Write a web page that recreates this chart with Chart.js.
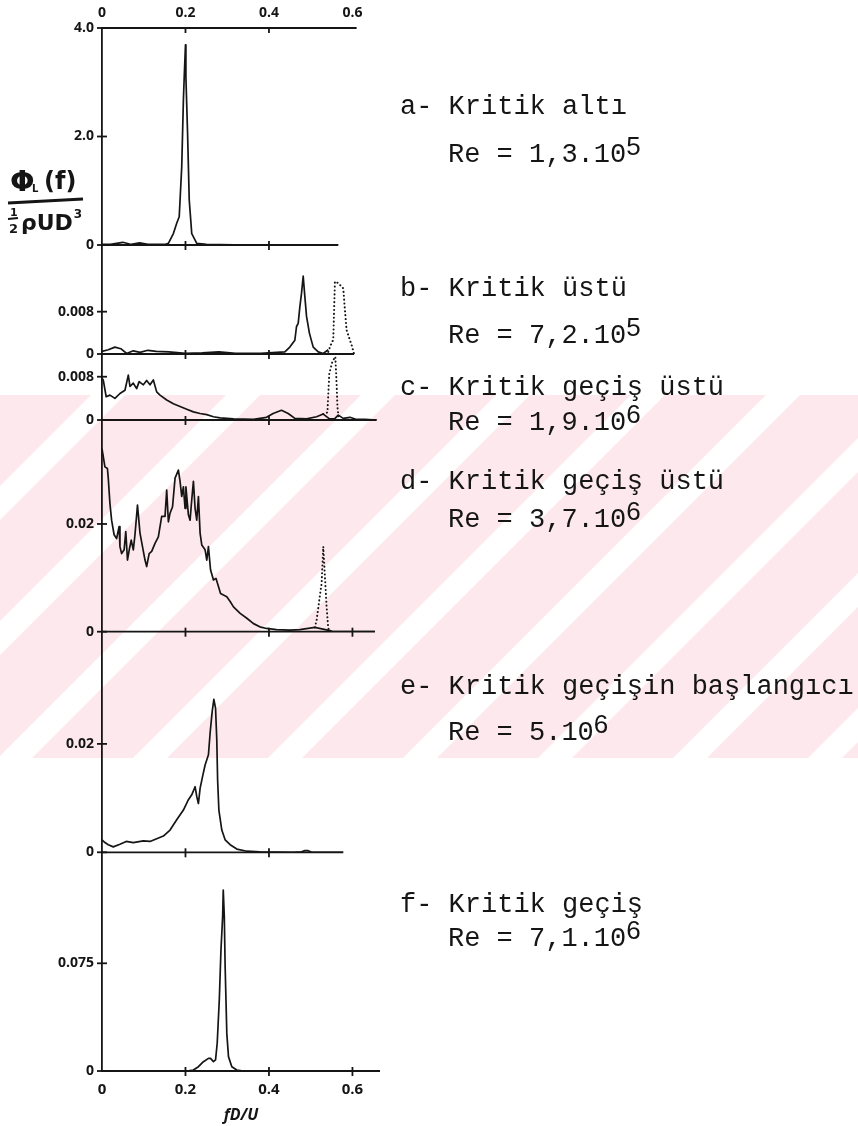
<!DOCTYPE html>
<html>
<head>
<meta charset="utf-8">
<script src="https://cdn.jsdelivr.net/npm/chart.js@4.4.0/dist/chart.umd.min.js"></script>
<style>
  html, body { margin: 0; padding: 0; background: #fff; }
  body { width: 858px; height: 1126px; overflow: hidden; }
  #spectra { display: block; }
</style>
</head>
<body>
<canvas id="spectra" width="858" height="1126"></canvas>
<script>
// x axis (fD/U)
const xTicks = [0, 0.2, 0.4, 0.6];
const xTickLabels = ['0', '0.2', '0.4', '0.6'];

// a - subcritical
const aX = [0, 0.02, 0.05, 0.07, 0.09, 0.11, 0.15, 0.159, 0.171, 0.179, 0.185, 0.191, 0.195, 0.197, 0.2, 0.201, 0.205, 0.209, 0.215, 0.227, 0.25, 0.35, 0.45, 0.566];
const aY = [0.01, 0.01, 0.05, 0.01, 0.04, 0.01, 0.01, 0.03, 0.21, 0.4, 0.52, 1.44, 2.67, 3.1, 3.69, 3.1, 2.06, 0.83, 0.21, 0.03, 0.01, 0, 0, 0];
const yTicksA = [0, 2, 4];
const yLabelsA = ['0', '2.0', '4.0'];

// b - supercritical
const bX = [0, 0.015, 0.031, 0.045, 0.059, 0.075, 0.091, 0.11, 0.13, 0.16, 0.2, 0.24, 0.28, 0.32, 0.38, 0.438, 0.45, 0.462, 0.466, 0.47, 0.474, 0.478, 0.482, 0.486, 0.49, 0.497, 0.506, 0.518, 0.53, 0.542];
const bY = [0.0005, 0.0008, 0.0013, 0.001, 0.0001, 0.0006, 0.0003, 0.0007, 0.0005, 0.0004, 0.0001, 0.0002, 0.0004, 0.0001, 0.0001, 0.0004, 0.0013, 0.0026, 0.0052, 0.0058, 0.0089, 0.0115, 0.0147, 0.0108, 0.0071, 0.0039, 0.0013, 0.0004, 0.0001, 0.0008];
const bDotX = [0.542, 0.548, 0.554, 0.558, 0.566, 0.578, 0.582, 0.586, 0.598, 0.604];
const bDotY = [0.0004, 0.0017, 0.0027, 0.0137, 0.0134, 0.0124, 0.0083, 0.0045, 0.0017, 0];
const yTicksB = [0, 0.008];
const yLabelsB = ['0', '0.008'];

// c - upper transition
const cX = [0, 0.003, 0.01, 0.019, 0.031, 0.043, 0.055, 0.063, 0.067, 0.075, 0.083, 0.089, 0.099, 0.107, 0.115, 0.123, 0.131, 0.139, 0.155, 0.171, 0.187, 0.203, 0.219, 0.235, 0.251, 0.267, 0.283, 0.315, 0.363, 0.394, 0.41, 0.43, 0.446, 0.462, 0.49, 0.514, 0.53, 0.545, 0.557, 0.566, 0.578, 0.594, 0.61, 0.63, 0.658];
const cY = [0.0077, 0.0074, 0.0043, 0.0046, 0.004, 0.0049, 0.0055, 0.0083, 0.0062, 0.0068, 0.0058, 0.0071, 0.0065, 0.0073, 0.0065, 0.0074, 0.0052, 0.0046, 0.0037, 0.003, 0.0025, 0.002, 0.0015, 0.0012, 0.001, 0.0006, 0.0004, 0.0002, 0.0001, 0.0005, 0.0012, 0.0018, 0.0012, 0.0003, 0.0002, 0.0006, 0.0011, 0.0002, 0.0002, 0.0009, 0.0003, 0.0005, 0.0001, 0.0001, 0];
const cDotX = [0.53, 0.54, 0.5445, 0.552, 0.559, 0.562, 0.564, 0.567];
const cDotY = [0.0011, 0.0014, 0.0086, 0.0108, 0.0117, 0.0068, 0.0025, 0.0003];
const yTicksC = [0, 0.008];
const yLabelsC = ['0', '0.008'];

// d - upper transition
const dX = [0, 0.007, 0.013, 0.015, 0.019, 0.023, 0.029, 0.035, 0.041, 0.043, 0.047, 0.053, 0.057, 0.061, 0.066, 0.07, 0.075, 0.079, 0.085, 0.091, 0.097, 0.103, 0.107, 0.113, 0.119, 0.127, 0.135, 0.143, 0.151, 0.155, 0.159, 0.163, 0.169, 0.175, 0.183, 0.187, 0.191, 0.195, 0.199, 0.201, 0.207, 0.211, 0.215, 0.219, 0.223, 0.227, 0.231, 0.235, 0.239, 0.247, 0.251, 0.255, 0.26, 0.267, 0.273, 0.279, 0.284, 0.291, 0.299, 0.307, 0.315, 0.331, 0.347, 0.363, 0.378, 0.394, 0.418, 0.45, 0.474, 0.51, 0.546, 0.554, 0.602, 0.654];
const dY = [0.034, 0.0306, 0.0303, 0.0285, 0.0238, 0.0207, 0.018, 0.0173, 0.0195, 0.0158, 0.0145, 0.0152, 0.0186, 0.0133, 0.0155, 0.017, 0.0152, 0.018, 0.0235, 0.0183, 0.0158, 0.0133, 0.0121, 0.0145, 0.0149, 0.0164, 0.0176, 0.0214, 0.0214, 0.0263, 0.0204, 0.022, 0.0232, 0.0285, 0.03, 0.0279, 0.0251, 0.0269, 0.0229, 0.0269, 0.0217, 0.0207, 0.0245, 0.0279, 0.0229, 0.0207, 0.0251, 0.0183, 0.0161, 0.0152, 0.0133, 0.0158, 0.0115, 0.0096, 0.0099, 0.0084, 0.0071, 0.0068, 0.0065, 0.0056, 0.0046, 0.0034, 0.0025, 0.0015, 0.0009, 0.0006, 0.0004, 0.0003, 0.0004, 0.0008, 0.0002, 0, 0, 0];
const dDotX = [0.5102, 0.5142, 0.5206, 0.5261, 0.5301, 0.5341, 0.5381, 0.5421, 0.5461];
const dDotY = [0.0008, 0.0022, 0.0059, 0.009, 0.0158, 0.0102, 0.0046, 0.0006, 0.0002];
const yTicksD = [0, 0.02];
const yLabelsD = ['0', '0.02'];

// e - start of transition
const eX = [0, 0.007, 0.015, 0.027, 0.043, 0.058, 0.075, 0.099, 0.115, 0.131, 0.147, 0.163, 0.179, 0.195, 0.207, 0.215, 0.223, 0.227, 0.231, 0.235, 0.241, 0.247, 0.255, 0.259, 0.264, 0.268, 0.272, 0.275, 0.277, 0.28, 0.287, 0.295, 0.307, 0.323, 0.347, 0.378, 0.458, 0.478, 0.486, 0.494, 0.502, 0.578];
const eY = [0.0023, 0.0018, 0.0014, 0.001, 0.0015, 0.002, 0.0018, 0.0021, 0.002, 0.0025, 0.003, 0.0041, 0.006, 0.0078, 0.0097, 0.0106, 0.0121, 0.0103, 0.009, 0.0118, 0.014, 0.0161, 0.018, 0.022, 0.026, 0.0282, 0.0266, 0.0207, 0.0133, 0.0078, 0.0041, 0.0023, 0.0014, 0.0006, 0.0002, 0.0001, 0, 0.0001, 0.0003, 0.0003, 0, 0];
const yTicksE = [0, 0.02];
const yLabelsE = ['0', '0.02'];

// f - transition
const fX = [0, 0.1, 0.203, 0.219, 0.231, 0.243, 0.255, 0.26, 0.267, 0.272, 0.276, 0.281, 0.285, 0.289, 0.2905, 0.293, 0.295, 0.299, 0.303, 0.311, 0.323, 0.339, 0.5, 0.666];
const fY = [0, 0, 0, 0.0007, 0.003, 0.0065, 0.0088, 0.0088, 0.0065, 0.0077, 0.0193, 0.0495, 0.0843, 0.1075, 0.126, 0.1075, 0.0727, 0.0262, 0.01, 0.003, 0.0007, 0, 0, 0];
const yTicksF = [0, 0.075];
const yLabelsF = ['0', '0.075'];

// labels on the right
const noteLetters = ['a', 'b', 'c', 'd', 'e', 'f'];
const noteTitles = ['Kritik altı', 'Kritik üstü', 'Kritik geçiş üstü', 'Kritik geçiş üstü', 'Kritik geçişin başlangıcı', 'Kritik geçiş'];
const reMantissa = ['1,3.10', '7,2.10', '1,9.10', '3,7.10', '5.10', '7,1.10'];
const reExponent = ['5', '5', '6', '6', '6', '6'];

// layout: baselines of the two text lines for each note
const noteBaselines = [[114, 162], [296, 343], [395, 430], [489, 527], [694, 740], [912, 946]];

const INK = '#151515';
const SANS = '"Open Sans", "Liberation Sans", sans-serif';
const TICK_FONT = {family: SANS, size: 14, weight: 'bold'};

const panels = [
  {id: 'ya', max: 4.0, weight: 217, order: 6, ticks: yTicksA, labels: yLabelsA, baseEnd: 0.566, baseTicks: [0.2, 0.4]},
  {id: 'yb', max: 0.0206, weight: 109, order: 5, ticks: yTicksB, labels: yLabelsB, baseEnd: 0.604, baseTicks: [0.2, 0.4]},
  {id: 'yc', max: 0.0122, weight: 66, order: 4, ticks: yTicksC, labels: yLabelsC, baseEnd: 0.658, baseTicks: [0.2, 0.4]},
  {id: 'yd', max: 0.0393, weight: 211.7, order: 3, ticks: yTicksD, labels: yLabelsD, baseEnd: 0.654, baseTicks: [0.2, 0.4, 0.6]},
  {id: 'ye', max: 0.0407, weight: 220.6, order: 2, ticks: yTicksE, labels: yLabelsE, baseEnd: 0.578, baseTicks: [0.2, 0.4]},
  {id: 'yf', max: 0.1523, weight: 218.7, order: 1, ticks: yTicksF, labels: yLabelsF, baseEnd: 0.666, baseTicks: [0.2, 0.4, 0.6]}
];

function pts(xs, ys) {
  return xs.map((x, i) => ({x: x, y: ys[i]}));
}

const solid = {borderColor: INK, borderWidth: 1.7, pointRadius: 0, fill: false, tension: 0, borderJoinStyle: 'round'};
const dotted = {borderColor: INK, borderWidth: 2, pointRadius: 0, fill: false, tension: 0, borderDash: [0.1, 3.8], borderCapStyle: 'round'};

const datasets = [
  {...solid, data: pts(aX, aY), yAxisID: 'ya'},
  {...solid, data: pts(bX, bY), yAxisID: 'yb'},
  {...dotted, data: pts(bDotX, bDotY), yAxisID: 'yb'},
  {...solid, data: pts(cX, cY), yAxisID: 'yc'},
  {...dotted, data: pts(cDotX, cDotY), yAxisID: 'yc'},
  {...solid, data: pts(dX, dY), yAxisID: 'yd'},
  {...dotted, data: pts(dDotX, dDotY), yAxisID: 'yd'},
  {...solid, data: pts(eX, eY), yAxisID: 'ye'},
  {...solid, data: pts(fX, fY), yAxisID: 'yf'}
];

const scales = {
  x: {
    type: 'linear', position: 'bottom', min: 0, max: 0.666,
    afterFit: (s) => { s.height = 55; },
    afterBuildTicks: (s) => { s.ticks = xTicks.map(v => ({value: v})); },
    ticks: {callback: (v, i) => xTickLabels[i], autoSkip: false, maxRotation: 0, padding: 10, color: INK,
      font: {family: SANS, size: 15, weight: 'bold'}},
    grid: {display: false, drawTicks: false},
    border: {display: false},
    title: {display: true, text: 'fD/U', color: INK, padding: {top: 0, bottom: 1},
      font: {family: SANS, size: 16, style: 'italic', weight: 'bold'}}
  },
  x2: {
    type: 'linear', position: 'top', min: 0, max: 0.666,
    afterFit: (s) => { s.height = 28; },
    afterBuildTicks: (s) => { s.ticks = xTicks.map(v => ({value: v})); },
    ticks: {callback: (v, i) => xTickLabels[i], autoSkip: false, maxRotation: 0, padding: 7, color: INK, font: TICK_FONT},
    grid: {display: false, drawTicks: false},
    border: {display: false}
  }
};

panels.forEach((p) => {
  scales[p.id] = {
    type: 'linear', position: 'left', stack: 'panels', stackWeight: p.weight, weight: p.order,
    min: 0, max: p.max,
    afterFit: (s) => { s.width = 102; },
    afterBuildTicks: (s) => { s.ticks = p.ticks.map(v => ({value: v})); },
    ticks: {callback: (v, i) => p.labels[i], autoSkip: false, padding: 8, color: INK, font: TICK_FONT},
    grid: {display: false, drawTicks: false},
    border: {display: true, color: INK, width: 1.8}
  };
});

// pale watermark band of the scanned page, drawn under everything
const watermarkPlugin = {
  id: 'watermark',
  beforeDraw(chart) {
    const ctx = chart.ctx;
    const top = 395, bottom = 758, h = bottom - top;
    const gaps = [91, 226, 361, 496, 631, 766, 901, 1036, 1171];
    ctx.save();
    ctx.beginPath();
    ctx.rect(0, top, chart.width, h);
    ctx.clip();
    ctx.fillStyle = '#fde8ed';
    ctx.fillRect(0, top, chart.width, h);
    ctx.fillStyle = '#ffffff';
    gaps.forEach((g) => {
      ctx.beginPath();
      ctx.moveTo(g, top);
      ctx.lineTo(g + 34, top);
      ctx.lineTo(g + 34 - h, bottom);
      ctx.lineTo(g - h, bottom);
      ctx.closePath();
      ctx.fill();
    });
    ctx.restore();
  }
};

// baselines of each panel, axis tick crosses, top frame line
const framePlugin = {
  id: 'frame',
  afterDatasetsDraw(chart) {
    const ctx = chart.ctx;
    const xs = chart.scales.x;
    const seg = (x1, y1, x2, y2) => { ctx.beginPath(); ctx.moveTo(x1, y1); ctx.lineTo(x2, y2); ctx.stroke(); };
    ctx.save();
    ctx.strokeStyle = INK;
    ctx.lineWidth = 1.8;
    panels.forEach((p) => {
      const ys = chart.scales[p.id];
      const y0 = ys.getPixelForValue(0);
      seg(xs.getPixelForValue(0), y0, xs.getPixelForValue(p.baseEnd), y0);
      p.baseTicks.forEach((t) => {
        const px = xs.getPixelForValue(t);
        seg(px, y0 - 4, px, y0 + 5);
      });
      p.ticks.forEach((t) => {
        const py = ys.getPixelForValue(t);
        seg(ys.right - 5, py, ys.right + 5, py);
      });
    });
    const ya = chart.scales.ya;
    const yTop = ya.getPixelForValue(yTicksA[yTicksA.length - 1]);
    seg(xs.getPixelForValue(0), yTop, xs.getPixelForValue(0.61), yTop);
    [0.2, 0.4].forEach((t) => {
      const px = xs.getPixelForValue(t);
      seg(px, yTop - 1, px, yTop + 5);
    });
    ctx.restore();
  }
};

// y label and right-hand captions
const textPlugin = {
  id: 'captions',
  afterDraw(chart) {
    const ctx = chart.ctx;
    ctx.save();
    ctx.fillStyle = INK;
    ctx.strokeStyle = INK;
    ctx.textBaseline = 'alphabetic';
    ctx.textAlign = 'left';

    // Phi_L(f) / (1/2 rho U D^3)
    const hand = '"DejaVu Sans", sans-serif';
    ctx.font = 'bold 29px ' + hand;
    ctx.fillText('Φ', 10, 191);
    ctx.font = 'bold 10px ' + hand;
    ctx.fillText('L', 32, 192);
    ctx.font = 'bold 24px ' + hand;
    ctx.fillText('(f)', 44, 189);
    ctx.lineWidth = 3;
    ctx.beginPath(); ctx.moveTo(8, 203); ctx.lineTo(83, 199); ctx.stroke();
    ctx.font = 'bold 11px ' + hand;
    ctx.fillText('1', 10, 216);
    ctx.lineWidth = 2;
    ctx.beginPath(); ctx.moveTo(8, 219); ctx.lineTo(18, 218); ctx.stroke();
    ctx.font = 'bold 13px ' + hand;
    ctx.fillText('2', 9, 233);
    ctx.font = 'bold 22px ' + hand;
    ctx.fillText('ρUD', 21, 230);
    const w = ctx.measureText('ρUD').width;
    ctx.font = 'bold 12px ' + hand;
    ctx.fillText('3', 21 + w + 1, 218);

    // captions a- ... f-
    const mono = '27px "Liberation Mono", monospace';
    noteLetters.forEach((letter, i) => {
      const [y1, y2] = noteBaselines[i];
      ctx.font = mono;
      ctx.fillText(letter + '- ' + noteTitles[i], 400, y1);
      const head = 'Re = ' + reMantissa[i];
      ctx.fillText(head, 448, y2);
      const hw = ctx.measureText(head).width;
      ctx.font = '26px "Liberation Sans", sans-serif';
      ctx.fillText(reExponent[i], 448 + hw, y2 - 7);
    });
    ctx.restore();
  }
};

new Chart(document.getElementById('spectra'), {
  type: 'line',
  data: {datasets: datasets},
  options: {
    responsive: false,
    animation: false,
    devicePixelRatio: 1,
    events: [],
    layout: {padding: {left: 0, right: 478, top: 0, bottom: 0}},
    plugins: {legend: {display: false}, tooltip: {enabled: false}},
    scales: scales
  },
  plugins: [watermarkPlugin, framePlugin, textPlugin]
});
</script>
</body>
</html>
